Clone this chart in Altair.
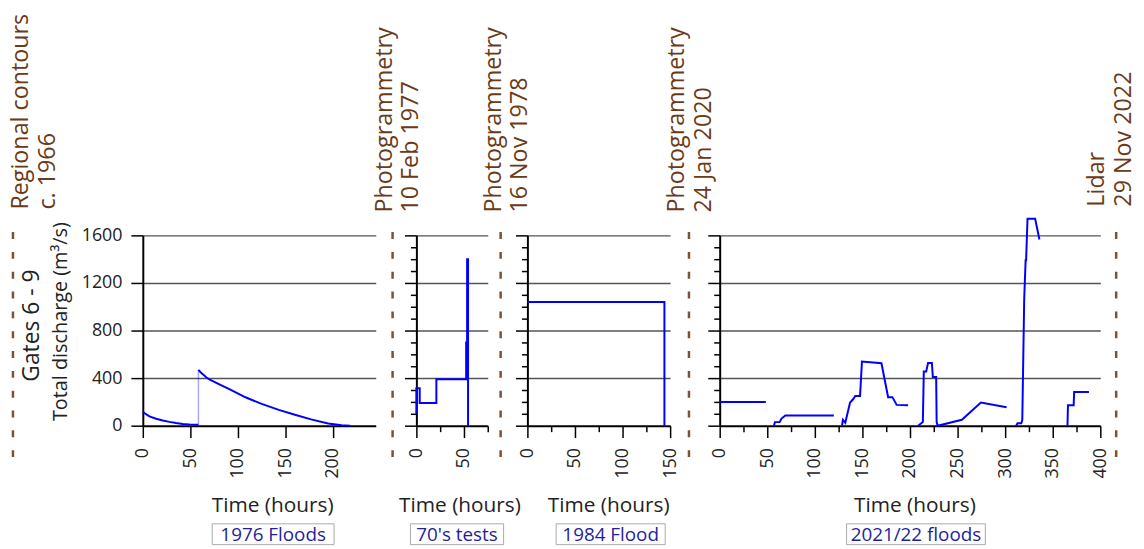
import altair as alt
import pandas as pd

# ---------------- data ----------------
# 1976 Floods
p1a_h = [0, 7, 14, 21, 28, 35, 42, 49, 58.5]
p1a_v = [114, 78, 58, 44, 32, 22, 15, 11, 8]
p1b_h = [58.5, 61, 67, 70, 80, 91, 108, 125, 143, 160, 177, 195, 209, 218]
p1b_v = [470, 447, 405, 390, 350, 308, 239, 183, 133, 92, 53, 19, 3, 0]
# 70's tests
p2_h = [0, 0, 3.5, 3.5, 21, 21, 52.3, 52.3, 53.3, 53.3, 54.3, 54.3]
p2_v = [100, 315, 315, 190, 190, 390, 390, 700, 700, 1400, 1400, 0]
# 1984 Flood
p3_h = [0, 144, 144]
p3_v = [1040, 1040, 0]
# 2021/22 floods (separate runs)
p4_segments = {
    "A": ([0, 48.5], [200, 200]),
    "B": ([57, 58, 63, 65, 69, 120], [0, 30, 30, 60, 85, 85]),
    "C": ([128.5, 129.5, 132, 137, 140, 142.5, 147.5, 149.5, 170, 177, 181.5, 186, 198],
          [0, 50, 25, 195, 220, 250, 250, 540, 525, 240, 240, 175, 172]),
    "D": ([208.5, 213.5, 214.5, 217, 219, 223, 224, 227.5, 228, 229, 254.5, 274.5, 301.5],
          [0, 30, 455, 455, 528, 528, 410, 410, 30, 0, 50, 195, 155]),
    "F": ([311.5, 313, 317, 318, 320, 321.5, 322, 323.5, 331.5, 336],
          [0, 20, 20, 50, 1060, 1390, 1390, 1740, 1740, 1565]),
    "G": ([365.5, 366, 372, 372.5, 388], [0, 172, 172, 283, 283]),
}

event_labels = [
    ["Regional contours", "c. 1966"],
    ["Photogrammetry", "10 Feb 1977"],
    ["Photogrammetry", "16 Nov 1978"],
    ["Photogrammetry", "24 Jan 2020"],
    ["Lidar", "29 Nov 2022"],
]
panel_names = ["1976 Floods", "70's tests", "1984 Flood", "2021/22 floods"]
x_title = "Time (hours)"
y_title_main = "Gates 6 - 9"
y_title_sub = "Total discharge (m³/s)"

# ---------------- style ----------------
FONT = "Open Sans"
BLUE = "#0000ff"
BROWN = "#6b3a16"
BROWN_DASH = "#7b5234"
BOX_TEXT = "#1f1f9c"
H = 192


def df_from(hs, vs, seg="a"):
    return pd.DataFrame({"h": hs, "v": vs, "seg": seg, "i": list(range(len(hs)))})


def y_axis(show_labels):
    return alt.Axis(
        values=list(range(0, 1601, 100)),
        format="d",
        labels=show_labels,
        labelExpr="datum.value % 400 === 0 ? datum.label : ''",
        tickSize={"condition": {"test": "datum.value % 400 === 0", "value": 12}, "value": 6},
        tickColor="black", tickWidth=1.5,
        domainColor="black", domainWidth=2,
        grid=True, gridColor="#555555", gridWidth=1.5,
        gridOpacity={"condition": {"test": "datum.value % 400 === 0 && datum.value > 0", "value": 1}, "value": 0},
        labelFont=FONT, labelFontSize=18, labelColor="#222222", labelPadding=9,
        labelFlush=False, labelOverlap=False, title=None,
    )


def x_axis(xmax):
    return alt.Axis(
        values=list(range(0, xmax + 1, 25)),
        format="d",
        labelExpr="datum.value % 50 === 0 ? datum.label : ''",
        labelAngle=-90,
        tickSize={"condition": {"test": "datum.value % 50 === 0", "value": 12}, "value": 6},
        tickColor="black", tickWidth=1.5,
        domainColor="black", domainWidth=2,
        grid=False,
        labelFont=FONT, labelFontSize=18, labelColor="#222222", labelPadding=10,
        labelFlush=False, labelOverlap=False, title=None,
    )


def one():
    return alt.Chart(pd.DataFrame({"k": [0]}))


def panel(df, xmax, width, show_ylabels, name, title_cx, box, extra=None):
    enc = dict(
        x=alt.X("h:Q", scale=alt.Scale(domain=[0, xmax], nice=False), axis=x_axis(xmax)),
        y=alt.Y("v:Q", scale=alt.Scale(domain=[0, 1600], nice=False), axis=y_axis(show_ylabels)),
        detail="seg:N",
        order="i:Q",
    )
    line = alt.Chart(df).mark_line(color=BLUE, strokeWidth=2).encode(**enc)
    layers = [line]
    if extra is not None:
        layers.append(alt.Chart(extra).mark_line(color=BLUE, strokeWidth=1.5, opacity=0.35).encode(
            x="h:Q", y="v:Q", order="i:Q"))
    title = one().mark_text(font=FONT, fontSize=21, color="#222222", align="center",
                            baseline="middle").encode(
        x=alt.value(title_cx), y=alt.value(273), text=alt.value(x_title))
    rect = one().mark_rect(fill="white", stroke="#aaaaaa", strokeWidth=1).encode(
        x=alt.value(box[0]), x2=alt.value(box[1]), y=alt.value(291), y2=alt.value(312))
    btxt = one().mark_text(font=FONT, fontSize=19, color=BOX_TEXT, align="center",
                           baseline="middle").encode(
        x=alt.value((box[0] + box[1]) / 2), y=alt.value(302), text=alt.value(name))
    layers += [title, rect, btxt]
    return alt.layer(*layers).properties(width=width, height=H)


def marker(width, line_x, base_x, start_y, lines, extras=()):
    rule = one().mark_rule(color=BROWN_DASH, strokeWidth=2.5, strokeDash=[7, 13]).encode(
        x=alt.value(line_x), y=alt.value(-3.3), y2=alt.value(225))
    txt = one().mark_text(angle=270, align="left", baseline="alphabetic", font=FONT,
                          fontSize=23.5, lineHeight=27, color=BROWN).encode(
        x=alt.value(base_x), y=alt.value(start_y), text=alt.value(lines))
    return alt.layer(rule, txt, *extras).properties(width=width, height=H)


# left marker panel also holds the y-axis titles and a page anchor
anchor = one().mark_rect(opacity=0).encode(
    x=alt.value(0), x2=alt.value(1), y=alt.value(-227), y2=alt.value(-226))
gates = one().mark_text(angle=270, align="center", baseline="middle", font=FONT,
                        fontSize=23, color="#222222").encode(
    x=alt.value(23), y=alt.value(91), text=alt.value(y_title_main))
tdis = one().mark_text(angle=270, align="center", baseline="middle", font=FONT,
                       fontSize=20, color="#222222").encode(
    x=alt.value(53), y=alt.value(87), text=alt.value(y_title_sub))

m0 = marker(135, 4, 19, -26, event_labels[0], extras=(anchor, gates, tdis))
m1 = marker(41, 17, 16, -23, event_labels[1])
m2 = marker(40, 13, 13, -23, event_labels[2])
m3 = marker(50, 19, 14, -23, event_labels[3])
m4 = marker(21, 16, 4, -29, event_labels[4])

df1 = pd.concat([df_from(p1a_h, p1a_v, "a"), df_from(p1b_h, p1b_v, "b")], ignore_index=True)
con1 = df_from([58.5, 58.5], [8, 470], "c")
df2 = df_from(p2_h, p2_v)
df3 = df_from(p3_h, p3_v)
df4 = pd.concat([df_from(hs, vs, k) for k, (hs, vs) in p4_segments.items()], ignore_index=True)

c1 = panel(df1, 245, 235, True, panel_names[0], 131, (70, 193), extra=con1)
c2 = panel(df2, 75, 72, False, panel_names[1], 44, (-6, 88))
c3 = panel(df3, 150, 144, False, panel_names[2], 82, (29, 139))
c4 = panel(df4, 400, 384, False, panel_names[3], 197, (128, 268))

chart = alt.hconcat(m0, c1, m1, c2, m2, c3, m3, c4, m4, spacing=0, bounds="flush").properties(
    padding=0, background="white"
).configure_view(strokeWidth=0)

chart.save("out.html", embed_options={"renderer": "svg", "actions": False})
